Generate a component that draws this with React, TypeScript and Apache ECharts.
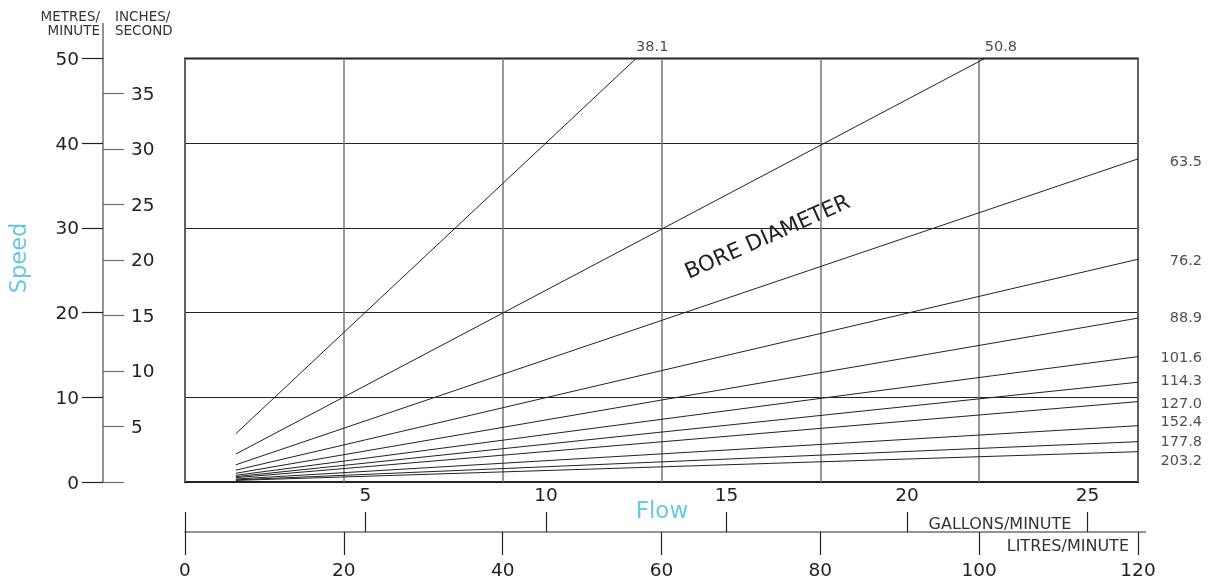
import React, { useEffect, useRef } from "react";
import * as echarts from "echarts";

// Bore diameters (mm) and the straight speed lines through the flow range.
const bores = ["38.1", "50.8", "63.5", "76.2", "88.9", "101.6", "114.3", "127.0", "152.4", "177.8", "203.2"];
const startFlow = 6.4; // litres/minute where every line begins
const startSpeeds = [5.7, 3.3, 2.03, 1.4, 1.03, 0.79, 0.63, 0.51, 0.35, 0.25, 0.19]; // metres/minute
const endFlows = [56.8, 100.7, 120, 120, 120, 120, 120, 120, 120, 120, 120];
const endSpeeds = [50, 50, 38.15, 26.3, 19.35, 14.8, 11.78, 9.49, 6.65, 4.76, 3.58];

// Where the right-hand bore labels sit (metres/minute), spread apart to stay readable.
const rightLabelSpeeds = [37.9, 26.2, 19.5, 14.8, 12.0, 9.3, 7.2, 4.8, 2.6];

// Axis extents and ticks.
const litresMax = 120;
const gallonsMax = 120 / 4.546;
const gallonTicks = [0, 5, 10, 15, 20, 25];
const gallonLabels = [5, 10, 15, 20, 25];
const metresMax = 50;
const inchesMax = 38.15;
const inchTicks = [0, 5, 10, 15, 20, 25, 30, 35];
const inchLabels = [5, 10, 15, 20, 25, 30, 35];

const FONT = "'DejaVu Sans', 'Open Sans', sans-serif";
const INK = "#222";
const AXIS_GREY = "#6f6f6f";
const CYAN = "#6cc6e4";

export default function App() {
  const ref = useRef<HTMLDivElement>(null);

  useEffect(() => {
    if (!ref.current) return;
    const chart = echarts.init(ref.current, undefined, { renderer: "svg" });

    const lineSeries = bores.map((b, i) => ({
      type: "line",
      name: b,
      xAxisIndex: 0,
      yAxisIndex: 0,
      symbol: "none",
      silent: true,
      lineStyle: { color: INK, width: 1 },
      data: [
        [startFlow, startSpeeds[i]],
        [endFlows[i], endSpeeds[i]],
      ],
    }));

    const boreLabel = { fontFamily: FONT, fontSize: 14.5, color: INK };

    // Labels for the two lines that leave through the top of the plot.
    const topLabels = {
      type: "scatter",
      xAxisIndex: 0,
      yAxisIndex: 0,
      symbolSize: 0,
      silent: true,
      clip: false,
      label: {
        ...boreLabel,
        show: true,
        position: "top",
        align: "left",
        distance: 5,
        formatter: (p: any) => p.data[2],
      },
      data: [0, 1].map((i) => [endFlows[i], endSpeeds[i], bores[i]]),
    };

    // Labels for the lines that reach the right edge.
    const rightLabels = {
      type: "scatter",
      xAxisIndex: 0,
      yAxisIndex: 0,
      symbolSize: 0,
      silent: true,
      clip: false,
      label: {
        ...boreLabel,
        show: true,
        position: "right",
        align: "right",
        distance: 64,
        formatter: (p: any) => p.data[2],
      },
      data: rightLabelSpeeds.map((s, k) => [litresMax, s, bores[k + 2]]),
    };

    const tickLabel = { fontFamily: FONT, fontSize: 18.5, color: INK };
    const greyLine = { show: true, onZero: false, lineStyle: { color: AXIS_GREY, width: 1.5 } };

    chart.setOption({
      animation: false,
      grid: {
        left: 185,
        right: 75,
        top: 58.5,
        bottom: 97,
        show: true,
        borderColor: INK,
        borderWidth: 2,
        backgroundColor: "transparent",
      },
      xAxis: [
        {
          type: "value",
          min: 0,
          max: litresMax,
          interval: 20,
          position: "bottom",
          offset: 50,
          axisLine: greyLine,
          axisTick: { show: true, length: 23, lineStyle: { color: INK, width: 1.2 } },
          axisLabel: { ...tickLabel, margin: 28 },
          splitLine: { show: true, lineStyle: { color: "#777", width: 1.5 } },
        },
        {
          type: "value",
          min: 0,
          max: gallonsMax,
          position: "bottom",
          offset: 50,
          axisLine: { show: false, onZero: false },
          axisTick: {
            show: true,
            inside: true,
            length: 20,
            customValues: gallonTicks,
            lineStyle: { color: INK, width: 1.2 },
          },
          axisLabel: { ...tickLabel, inside: true, margin: 28, customValues: gallonLabels },
          splitLine: { show: false },
        },
      ],
      yAxis: [
        {
          type: "value",
          min: 0,
          max: metresMax,
          interval: 10,
          position: "left",
          offset: 82,
          axisLine: greyLine,
          axisTick: { show: true, length: 21, lineStyle: { color: INK, width: 1.2 } },
          axisLabel: { ...tickLabel, margin: 24 },
          splitLine: { show: true, lineStyle: { color: INK, width: 1 } },
        },
        {
          type: "value",
          min: 0,
          max: inchesMax,
          position: "left",
          offset: 82,
          axisLine: { show: false, onZero: false },
          axisTick: {
            show: true,
            inside: true,
            length: 21,
            customValues: inchTicks,
            lineStyle: { color: AXIS_GREY, width: 1.2 },
          },
          axisLabel: { ...tickLabel, inside: true, margin: 28, customValues: inchLabels },
          splitLine: { show: false },
        },
      ],
      series: [...lineSeries, topLabels, rightLabels],
      graphic: [
        // speed axis line continues up between the unit captions
        { type: "line", shape: { x1: 103, y1: 23, x2: 103, y2: 59 }, style: { stroke: AXIS_GREY, lineWidth: 1.5 } },
        // flow axis line runs a little past the last tick
        { type: "line", shape: { x1: 1138, y1: 532, x2: 1146, y2: 532 }, style: { stroke: AXIS_GREY, lineWidth: 1.5 } },
        {
          type: "text",
          x: 100,
          y: 9,
          style: { text: "METRES/\nMINUTE", fontFamily: FONT, fontSize: 13.5, lineHeight: 14, fill: "#333", align: "right" },
        },
        {
          type: "text",
          x: 115,
          y: 9,
          style: { text: "INCHES/\nSECOND", fontFamily: FONT, fontSize: 13.5, lineHeight: 14, fill: "#333", align: "left" },
        },
        {
          type: "text",
          x: 18,
          y: 258,
          rotation: Math.PI / 2,
          style: { text: "Speed", fontFamily: FONT, fontSize: 22.5, fill: CYAN, align: "center", verticalAlign: "middle" },
        },
        {
          type: "text",
          x: 662,
          y: 510,
          style: { text: "Flow", fontFamily: FONT, fontSize: 23, fill: CYAN, align: "center", verticalAlign: "middle" },
        },
        {
          type: "text",
          x: 767,
          y: 236,
          rotation: (24 * Math.PI) / 180,
          style: { text: "BORE DIAMETER", fontFamily: FONT, fontSize: 21.5, fill: INK, align: "center", verticalAlign: "middle" },
        },
        {
          type: "text",
          x: 1000,
          y: 523,
          style: { text: "GALLONS/MINUTE", fontFamily: FONT, fontSize: 16, fill: "#333", align: "center", verticalAlign: "middle" },
        },
        {
          type: "text",
          x: 1129,
          y: 545,
          style: { text: "LITRES/MINUTE", fontFamily: FONT, fontSize: 16, fill: "#333", align: "right", verticalAlign: "middle" },
        },
      ],
    });

    return () => chart.dispose();
  }, []);

  return <div ref={ref} style={{ position: "fixed", left: 0, top: 0, width: 1213, height: 579 }} />;
}
